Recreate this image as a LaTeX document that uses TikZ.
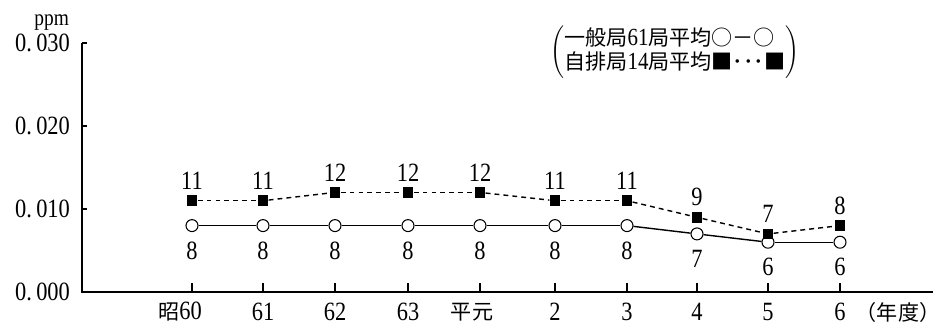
\documentclass[tikz,border=0pt]{standalone}
\usepackage{fontspec}
\setmainfont{Liberation Serif}[FakeStretch=0.85]
\newfontfamily\jp{Noto Sans CJK JP}
\newcommand{\jpt}{\jp\fontsize{12}{13}\selectfont}
\newcommand{\dg}[1]{{\rmfamily\fontsize{14}{13}\selectfont #1}}
\begin{document}
\begin{tikzpicture}
   [x=0.02cm,y=-0.02cm,
    dot/.style ={draw,circle,fill=white,inner sep=0pt,minimum size=0.24cm,line width=0.6pt},
    box/.style ={fill=black,inner sep=0pt,minimum size=0.21cm},
    num/.style ={font=\fontsize{15}{18}\selectfont,inner sep=1pt},
    axis/.style ={line width=1pt}]
   \useasboundingbox (0,0) rectangle (942,326);
   % axes
   \coordinate (o) at (82,292);
   \coordinate (ytop) at (82,43);
   \coordinate (xend) at (933,292);
   \draw[axis] (ytop) -- (o) -- (xend);
   \foreach \yy/\t in {292/000,209/010,126/020,43/030}{
      \draw[line width=0.8pt] (82,\yy) -- ++(5,0);
      \node[num,anchor=east] (y\t) at (72,\yy) {0.\,\t};
   }
   \node[num,font=\fontsize{13}{14}\selectfont,anchor=east] (ppm) at (71,23) {ppm};
   % data: x, general, roadside
   \foreach \i/\x/\a/\b in {1/192/8/11,2/263/8/11,3/335/8/12,4/408/8/12,5/480/8/12,
                            6/555/8/11,7/627/8/11,8/697/7/9,9/768/6/7,10/840/6/8}{
      \draw[line width=0.8pt] (\x,292) -- ++(0,-9);
      \node[dot,label={[num,label distance=0.15cm]below:\a}] (c\i) at (\x,{292-8.3*\a}) {};
      \node[box,label={[num,label distance=0.07cm]above:\b}] (s\i) at (\x,{292-8.3*\b}) {};
   }
   \foreach \i [count=\j from 2] in {1,...,9}{
      \draw[line width=0.8pt] (c\i) -- (c\j);
      \draw[line width=0.8pt,dash pattern=on 2.8pt off 2.3pt] (s\i) -- (s\j);
   }
   % year labels
   \node[num,anchor=east] (x1) at (204,312) {{\jpt 昭}60};
   \foreach \x/\t in {263/61,335/62,408/63,555/2,627/3,697/4,768/5,840/6}
      \node[num] (x\t) at (\x,312) {\t};
   \node[font=\jpt] (xh) at (472,312) {平元};
   \node[font=\jpt] (unit) at (898,312) {（年度）};
   % legend
   \node[inner sep=0pt] (legend) at (675,52)
      {$\left(\vcenter{\hbox{\jpt\begin{tabular}{@{}l@{}}一般局\dg{61}局平均○－○\\自排局\dg{14}局平均■･･･■\end{tabular}}}\right)$};
\end{tikzpicture}
\end{document}
